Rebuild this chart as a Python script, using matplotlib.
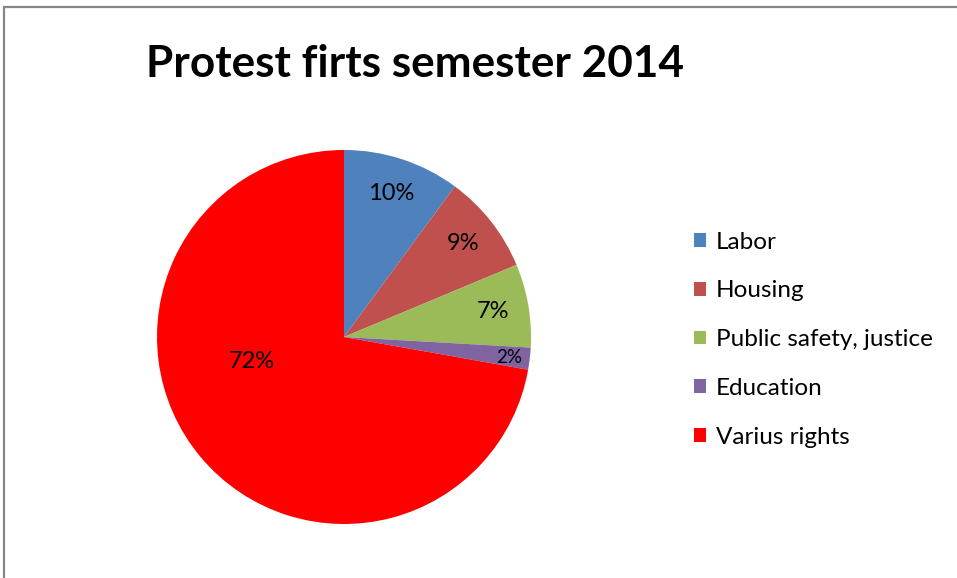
import numpy as np
import matplotlib.pyplot as plt
from matplotlib.patches import Rectangle

# data
categories = ['Labor', 'Housing', 'Public safety, justice', 'Education', 'Varius rights']
shares = [10.1, 8.6, 7.2, 1.9, 72.2]
colors = ['#4F81BD', '#C0504D', '#9BBB59', '#8064A2', '#FF0000']
title = 'Protest firts semester 2014'

plt.rcParams['font.family'] = ['Lato', 'DejaVu Sans']

W, H = 957, 578
fig = plt.figure(figsize=(W/100, H/100), dpi=100)
#
cx, cy, r = 344, 337, 187
ax = fig.add_axes([(cx-r)/W, (H-cy-r)/H, 2*r/W, 2*r/H])
wedges, texts, autotexts = ax.pie(shares, colors=colors, startangle=90, counterclock=False,
                                  autopct='%1.0f%%', pctdistance=0.81,
                                  wedgeprops=dict(linewidth=0),
                                  textprops=dict(fontsize=17, color='black'))
ax.set_xlim(-1, 1)
ax.set_ylim(-1, 1)
ax.set_aspect('equal')
#
# small slice label sits a bit further out, big slice label toward the middle-left
autotexts[3].set_position((0.89*np.cos(np.radians(-7)), 0.89*np.sin(np.radians(-7))))
autotexts[3].set_fontsize(13.5)
autotexts[4].set_position((0.51*np.cos(np.radians(195)), 0.51*np.sin(np.radians(195))))
#
fig.text(415/W, 1-64/H, title, fontsize=31.8, fontweight='bold', ha='center', va='center')
#
leg = fig.legend(wedges, categories, loc='upper left', bbox_to_anchor=(684/W, 1-222/H),
                 frameon=False, fontsize=17.5, handlelength=0.5, handleheight=0.5,
                 handletextpad=0.4, labelspacing=1.14, borderaxespad=0)
#
# chart border (only top and left visible)
fig.add_artist(Rectangle((4/W, -0.05), 1.1, 1-7/H+0.05, transform=fig.transFigure,
                         fill=False, edgecolor='#878787', linewidth=1.6))
#
fig.savefig('out.png', dpi=100)
